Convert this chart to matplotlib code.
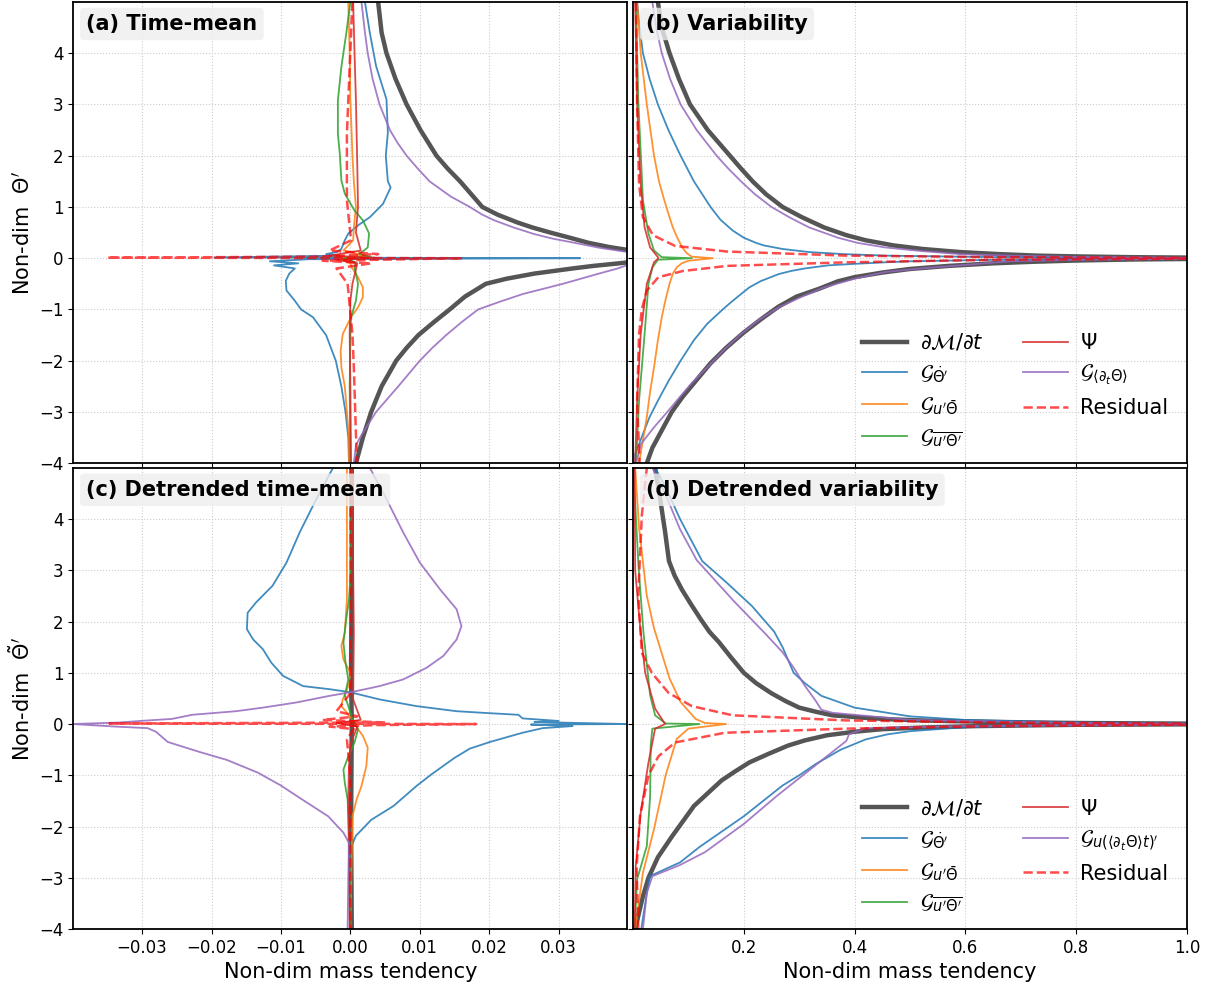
import numpy as np
import matplotlib
matplotlib.use("Agg")
import matplotlib.pyplot as plt

NA = float("nan")

# ---- profiles: (tendency, theta) pairs, NA = break ----
# (a) time-mean
a_dmdt = [(0.0040, 5.0), (0.0045, 4.4), (0.0052, 4.0), (0.0065, 3.5), (0.0081, 3.0), (0.0101, 2.5),
          (0.0124, 2.0), (0.0140, 1.75), (0.0158, 1.5), (0.0174, 1.25), (0.0190, 1.0), (0.0212, 0.85),
          (0.0240, 0.7), (0.0262, 0.6), (0.0288, 0.5), (0.0316, 0.4), (0.0343, 0.3), (0.0372, 0.22),
          (0.0400, 0.16), (NA, NA),
          (0.0400, -0.08), (0.0387, -0.1), (0.0350, -0.15), (0.0320, -0.2), (0.0265, -0.3), (0.0225, -0.4),
          (0.0195, -0.5), (0.0165, -0.75), (0.0143, -1.0), (0.0120, -1.25), (0.0098, -1.5), (0.0081, -1.75),
          (0.0066, -2.0), (0.0045, -2.5), (0.0030, -3.0), (0.0018, -3.5), (0.0008, -4.0)]
a_gdot = [(0.0021, 5.0), (0.0028, 4.4), (0.0037, 3.75), (0.0052, 3.1), (0.0054, 2.45), (0.0051, 2.0),
          (0.0054, 1.5), (0.0058, 1.38), (0.0047, 1.06), (0.0028, 0.8), (0.0011, 0.64), (-0.0003, 0.48),
          (-0.0008, 0.35), (-0.0013, 0.18), (-0.0020, 0.12), (-0.0035, 0.08), (-0.0015, 0.05),
          (-0.0196, 0.015), (0.0331, 0.0), (-0.0060, -0.02), (-0.0116, -0.06), (-0.0075, -0.1),
          (-0.0110, -0.14), (-0.0080, -0.2), (-0.0088, -0.3), (-0.0093, -0.44), (-0.0092, -0.63),
          (-0.0080, -0.83), (-0.0071, -1.0), (-0.0054, -1.15), (-0.0035, -1.5), (-0.0021, -2.0),
          (-0.0013, -2.5), (-0.0007, -3.0), (-0.0003, -3.5), (-0.0002, -4.0)]
a_gmean = [(-0.0003, 5.0), (-0.0001, 4.0), (0.0, 3.1), (0.0003, 2.0), (0.0005, 1.5), (0.0008, 1.0),
           (0.0005, 0.6), (0.0004, 0.35), (-0.0010, 0.15), (0.0020, 0.05), (-0.0015, 0.0), (0.0, -0.1),
           (0.0002, -0.18), (0.0011, -0.37), (0.0018, -0.57), (0.0018, -0.76), (0.0011, -0.96),
           (0.0001, -1.15), (-0.0011, -1.48), (-0.0014, -1.8), (-0.0013, -2.13), (-0.0008, -2.5),
           (-0.0005, -3.0), (-0.0002, -3.5), (-0.0002, -4.0)]
a_geddy = [(0.0, 5.0), (-0.0006, 4.38), (-0.0013, 3.73), (-0.0018, 3.08), (-0.0018, 2.43), (-0.0015, 2.0),
           (-0.0013, 1.52), (-0.0008, 1.26), (0.0006, 0.93), (0.0018, 0.74), (0.0027, 0.48), (0.0025, 0.21),
           (0.0013, 0.08), (0.0030, 0.02), (-0.0010, 0.0), (0.0008, -0.08), (0.0006, -0.18), (0.0011, -0.5),
           (0.0008, -0.83), (0.0001, -1.15), (0.0, -1.5), (-0.0001, -2.5), (0.0, -4.0)]
a_psi = [(0.0004, 5.0), (0.0006, 4.0), (0.0008, 3.08), (0.0010, 1.78), (0.0011, 1.0), (0.0008, 0.5),
         (0.0015, 0.15), (-0.0030, 0.05), (0.0035, 0.01), (-0.0020, -0.03), (0.0010, -0.1), (0.0003, -0.5),
         (0.0, -0.83), (-0.0001, -1.48), (0.0, -2.5), (0.0001, -4.0)]
a_gtrend = [(0.0016, 5.0), (0.0021, 4.4), (0.0025, 4.0), (0.0032, 3.5), (0.0042, 3.0), (0.0057, 2.5),
            (0.0068, 2.25), (0.0081, 2.0), (0.0097, 1.75), (0.0114, 1.5), (0.0145, 1.2), (0.0172, 1.0),
            (0.0190, 0.85), (0.0207, 0.74), (0.0235, 0.6), (0.0265, 0.47), (0.0292, 0.38), (0.0323, 0.3),
            (0.0360, 0.2), (0.0400, 0.12), (NA, NA),
            (0.0400, -0.13), (0.0385, -0.2), (0.0358, -0.3), (0.0332, -0.4), (0.0306, -0.5), (0.0277, -0.6),
            (0.0248, -0.7), (0.0215, -0.85), (0.0184, -1.0), (0.0160, -1.25), (0.0138, -1.5), (0.0118, -1.75),
            (0.0100, -2.0), (0.0069, -2.5), (0.0037, -3.0), (0.0016, -3.45), (0.0008, -3.65), (0.0005, -4.0)]
a_resid = [(0.0003, 5.0), (-0.0001, 3.73), (-0.0005, 2.43), (-0.0005, 1.13), (-0.0001, 0.6), (0.0001, 0.35),
           (-0.0030, 0.15), (0.0040, 0.08), (-0.0050, 0.03), (-0.0350, 0.01), (0.0161, 0.0), (0.0080, -0.02),
           (-0.0040, -0.05), (0.0030, -0.1), (-0.0020, -0.2), (-0.0004, -0.5), (0.0003, -1.48),
           (0.0005, -2.13), (0.0008, -3.43), (0.0010, -4.0)]

# (b) variability
b_dmdt = [(0.045, 5.0), (0.052, 4.5), (0.066, 4.0), (0.083, 3.5), (0.103, 3.0), (0.135, 2.5), (0.175, 2.0),
          (0.195, 1.75), (0.216, 1.5), (0.240, 1.25), (0.270, 1.0), (0.305, 0.8), (0.345, 0.6),
          (0.385, 0.45), (0.420, 0.35), (0.470, 0.25), (0.523, 0.18), (0.590, 0.12), (0.660, 0.08),
          (0.730, 0.05), (0.800, 0.035), (0.900, 0.02), (1.0, 0.012), (NA, NA),
          (1.0, -0.015), (0.90, -0.025), (0.80, -0.045), (0.72, -0.07), (0.65, -0.1), (0.57, -0.15),
          (0.50, -0.21), (0.45, -0.28), (0.40, -0.37), (0.37, -0.45), (0.335, -0.6), (0.295, -0.75),
          (0.262, -0.95), (0.230, -1.2), (0.200, -1.45), (0.168, -1.75), (0.140, -2.05), (0.113, -2.4),
          (0.090, -2.7), (0.070, -3.0), (0.055, -3.3), (0.035, -3.7), (0.025, -4.0)]
b_gdot = [(0.0075, 5.0), (0.012, 4.5), (0.018, 4.0), (0.030, 3.5), (0.045, 3.0), (0.064, 2.5), (0.086, 2.0),
          (0.098, 1.75), (0.110, 1.5), (0.125, 1.25), (0.140, 1.0), (0.158, 0.75), (0.180, 0.54),
          (0.200, 0.4), (0.222, 0.3), (0.236, 0.25), (0.270, 0.18), (0.318, 0.12), (0.380, 0.08),
          (0.455, 0.05), (0.66, 0.02), (1.0, 0.005), (NA, NA),
          (1.0, -0.008), (0.66, -0.03), (0.50, -0.06), (0.455, -0.08), (0.400, -0.11), (0.352, -0.14),
          (0.310, -0.2), (0.285, -0.25), (0.263, -0.31), (0.230, -0.45), (0.210, -0.57), (0.195, -0.7),
          (0.178, -0.85), (0.162, -1.0), (0.134, -1.28), (0.110, -1.6), (0.086, -2.0), (0.064, -2.4),
          (0.045, -2.78), (0.030, -3.1), (0.018, -3.43), (0.004, -3.82), (0.004, -4.0)]
b_gmean = [(0.0075, 5.0), (0.014, 4.0), (0.025, 3.0), (0.038, 2.0), (0.047, 1.5), (0.055, 1.19),
           (0.063, 0.9), (0.072, 0.6), (0.080, 0.4), (0.089, 0.21), (0.097, 0.1), (0.106, 0.03),
           (0.144, 0.0), (0.100, -0.05), (0.088, -0.1), (0.079, -0.18), (0.072, -0.3), (0.066, -0.5),
           (0.059, -0.8), (0.052, -1.15), (0.045, -1.6), (0.038, -2.13), (0.031, -2.6), (0.025, -3.1),
           (0.011, -4.0)]
b_geddy = [(0.0055, 5.0), (0.0096, 3.08), (0.018, 1.13), (0.028, 0.48), (0.038, 0.15), (0.052, 0.02),
           (0.106, 0.0), (0.045, -0.03), (0.035, -0.18), (0.028, -0.5), (0.021, -1.48), (0.011, -2.78),
           (0.0055, -4.0)]
b_psi = [(0.004, 5.0), (0.0075, 3.0), (0.014, 1.45), (0.021, 0.6), (0.031, 0.21), (0.045, 0.02),
         (0.046, 0.0), (0.038, -0.08), (0.025, -0.5), (0.014, -1.48), (0.0075, -2.78), (0.004, -4.0)]
b_gtrend = [(0.035, 5.0), (0.042, 4.5), (0.052, 4.0), (0.067, 3.5), (0.086, 3.0), (0.115, 2.5), (0.151, 2.0),
            (0.172, 1.75), (0.195, 1.5), (0.220, 1.25), (0.250, 1.0), (0.282, 0.8), (0.318, 0.6),
            (0.370, 0.4), (0.405, 0.3), (0.455, 0.21), (0.520, 0.14), (0.590, 0.08), (0.680, 0.05),
            (0.800, 0.025), (1.0, 0.008), (NA, NA),
            (1.0, -0.012), (0.80, -0.03), (0.68, -0.06), (0.59, -0.14), (0.52, -0.2), (0.455, -0.27),
            (0.400, -0.4), (0.345, -0.57), (0.305, -0.75), (0.263, -0.96), (0.228, -1.2), (0.195, -1.48),
            (0.163, -1.8), (0.134, -2.13), (0.105, -2.45), (0.079, -2.78), (0.058, -3.05), (0.038, -3.3),
            (0.014, -3.63), (0.006, -4.0)]
b_resid = [(0.0055, 5.0), (0.0075, 3.0), (0.011, 1.45), (0.018, 0.8), (0.036, 0.45), (0.076, 0.24),
           (0.17, 0.13), (0.386, 0.05), (0.66, 0.02), (1.0, 0.006), (NA, NA), (1.0, -0.008), (0.66, -0.03),
           (0.386, -0.08), (0.17, -0.15), (0.09, -0.25), (0.046, -0.37), (0.025, -0.63), (0.016, -1.0),
           (0.011, -1.48), (0.0075, -2.78), (0.012, -4.0)]

# (c) detrended time-mean
c_dmdt = [(0.0002, 5.0), (0.0002, 3.0), (0.0001, 1.0), (0.0002, 0.0), (0.0001, -2.0), (0.0002, -4.0)]
c_gdot = [(-0.0025, 5.0), (-0.0049, 4.39), (-0.0073, 3.74), (-0.0092, 3.15), (-0.0112, 2.7),
          (-0.0136, 2.37), (-0.0148, 2.17), (-0.0149, 1.85), (-0.0140, 1.65), (-0.0126, 1.46),
          (-0.0114, 1.2), (-0.0097, 0.94), (-0.0068, 0.74), (-0.0030, 0.68), (0.0, 0.62), (0.0042, 0.48),
          (0.0095, 0.35), (0.0153, 0.25), (0.0190, 0.22), (0.0242, 0.18), (0.0248, 0.11), (0.0300, 0.06),
          (0.0265, 0.04), (0.0330, 0.02), (0.0400, 0.0), (0.0260, -0.01), (0.0320, -0.04), (0.0277, -0.08),
          (0.0248, -0.17), (0.0201, -0.35), (0.0172, -0.48), (0.0150, -0.66), (0.0117, -0.98),
          (0.0096, -1.2), (0.0062, -1.6), (0.0030, -1.87), (0.0008, -2.18), (0.0001, -2.4), (0.0, -3.0),
          (0.0, -4.0)]
c_gmean = [(-0.0005, 5.0), (-0.0005, 3.0), (-0.0005, 2.43), (-0.0008, 1.78), (-0.0013, 1.52),
           (-0.0010, 1.26), (0.0, 1.0), (-0.0003, 0.74), (-0.0011, 0.48), (-0.0013, 0.35), (-0.0005, 0.22),
           (0.0005, 0.05), (0.0011, -0.1), (0.0018, -0.23), (0.0025, -0.46), (0.0023, -0.82),
           (0.0016, -1.21), (0.0009, -1.47), (0.0003, -1.8), (0.0002, -2.5), (0.0, -4.0)]
c_geddy = [(0.0002, 5.0), (0.0001, 3.08), (-0.0002, 2.43), (-0.0006, 2.04), (-0.0010, 1.59),
           (-0.0007, 1.2), (-0.0003, 0.87), (-0.0008, 0.55), (-0.0003, 0.35), (0.0003, 0.1), (0.0011, -0.1),
           (0.0006, -0.36), (-0.0003, -0.63), (-0.0010, -0.89), (-0.0008, -1.15), (-0.0004, -1.47),
           (-0.0002, -2.12), (0.0, -4.0)]
c_psi = [(0.0003, 5.0), (0.0004, 3.0), (0.0005, 1.78), (0.0004, 0.48), (0.0015, 0.08), (-0.0020, 0.02),
         (0.0010, -0.05), (0.0, -0.4), (-0.0002, -0.82), (-0.0003, -1.47), (-0.0002, -2.75), (-0.0001, -4.0)]
c_gtrend = [(0.0028, 5.0), (0.0052, 4.39), (0.0076, 3.74), (0.0100, 3.15), (0.0129, 2.63), (0.0153, 2.24),
            (0.0160, 1.91), (0.0153, 1.65), (0.0134, 1.33), (0.0110, 1.1), (0.0076, 0.87), (0.0042, 0.74),
            (0.0004, 0.63), (-0.0030, 0.55), (-0.0078, 0.42), (-0.0126, 0.32), (-0.0165, 0.25),
            (-0.0228, 0.18), (-0.0257, 0.1), (-0.0303, 0.06), (-0.0332, 0.03), (-0.0400, 0.0),
            (-0.0338, -0.05), (-0.0292, -0.08), (-0.0280, -0.15), (-0.0263, -0.35), (-0.0216, -0.55),
            (-0.0178, -0.7), (-0.0133, -0.95), (-0.0100, -1.2), (-0.0072, -1.45), (-0.0032, -1.8),
            (-0.0010, -2.12), (-0.0002, -2.32), (-0.0003, -3.0), (-0.0004, -4.0)]
c_resid = [(0.0, 5.0), (0.0001, 2.0), (0.0, 0.6), (-0.0020, 0.25), (0.0010, 0.15), (-0.0040, 0.08),
           (0.0050, 0.03), (-0.0347, 0.01), (0.0181, 0.0), (0.0040, -0.02), (-0.0030, -0.05),
           (0.0005, -0.1), (-0.0005, -0.3), (0.0, -1.0), (0.0, -4.0)]

# (d) detrended variability
d_dmdt = [(0.040, 5.0), (0.049, 4.4), (0.058, 3.75), (0.065, 3.18), (0.075, 2.9), (0.088, 2.63),
          (0.104, 2.35), (0.122, 2.05), (0.138, 1.8), (0.155, 1.6), (0.177, 1.3), (0.200, 1.0),
          (0.222, 0.8), (0.250, 0.6), (0.275, 0.45), (0.300, 0.32), (0.330, 0.24), (0.360, 0.17),
          (0.420, 0.12), (0.470, 0.09), (0.520, 0.07), (0.660, 0.04), (0.800, 0.02), (1.0, 0.008), (NA, NA),
          (1.0, -0.006), (0.80, -0.015), (0.62, -0.04), (0.52, -0.07), (0.45, -0.1), (0.40, -0.15),
          (0.35, -0.22), (0.31, -0.32), (0.28, -0.42), (0.245, -0.58), (0.21, -0.75), (0.185, -0.92),
          (0.16, -1.1), (0.135, -1.35), (0.11, -1.6), (0.09, -1.9), (0.07, -2.2), (0.045, -2.6),
          (0.028, -3.0), (0.018, -3.36), (0.004, -4.0)]
d_gdot = [(0.040, 5.0), (0.060, 4.6), (0.085, 4.0), (0.125, 3.18), (0.170, 2.75), (0.215, 2.3),
          (0.255, 1.8), (0.270, 1.5), (0.290, 1.0), (0.310, 0.8), (0.340, 0.55), (0.400, 0.32), (0.50, 0.15),
          (0.60, 0.08), (0.80, 0.03), (1.0, 0.01), (NA, NA),
          (1.0, -0.005), (0.80, -0.02), (0.60, -0.06), (0.55, -0.1), (0.50, -0.14), (0.46, -0.2),
          (0.42, -0.3), (0.375, -0.5), (0.33, -0.78), (0.30, -1.0), (0.27, -1.2), (0.235, -1.5),
          (0.20, -1.8), (0.16, -2.1), (0.12, -2.4), (0.085, -2.7), (0.030, -2.97), (0.025, -3.3),
          (0.015, -4.0)]
d_gmean = [(0.004, 5.0), (0.011, 3.83), (0.025, 2.5), (0.038, 1.87), (0.066, 0.89), (0.086, 0.43),
           (0.113, 0.1), (0.130, 0.02), (0.168, 0.0), (0.100, -0.09), (0.079, -0.29), (0.059, -1.0),
           (0.038, -2.05), (0.018, -2.9), (0.004, -4.0)]
d_geddy = [(0.0007, 5.0), (0.010, 3.08), (0.019, 1.78), (0.031, 0.56), (0.040, 0.17), (0.059, 0.01),
           (0.120, 0.0), (0.035, -0.09), (0.032, -0.42), (0.031, -1.4), (0.025, -2.38), (0.0075, -3.03),
           (0.003, -4.0)]
d_psi = [(0.003, 5.0), (0.004, 3.0), (0.012, 2.0), (0.022, 1.0), (0.040, 0.3), (0.058, 0.0),
         (0.040, -0.09), (0.028, -0.75), (0.014, -1.73), (0.005, -2.78), (0.003, -4.0)]
d_gtrend = [(0.035, 5.0), (0.058, 4.5), (0.085, 3.8), (0.115, 3.2), (0.182, 2.4), (0.240, 1.75),
            (0.270, 1.4), (0.290, 1.1), (0.310, 0.75), (0.330, 0.45), (0.340, 0.28), (0.360, 0.22),
            (0.50, 0.08), (0.80, 0.02), (1.0, 0.005), (NA, NA),
            (1.0, -0.008), (0.60, -0.04), (0.42, -0.08), (0.39, -0.2), (0.385, -0.33), (0.33, -0.8),
            (0.26, -1.4), (0.20, -1.95), (0.13, -2.5), (0.085, -2.75), (0.035, -2.97), (0.025, -3.3),
            (0.018, -4.0)]
d_resid = [(0.025, 5.0), (0.016, 4.07), (0.0096, 2.52), (0.016, 1.39), (0.034, 1.0), (0.064, 0.61),
           (0.106, 0.35), (0.18, 0.17), (0.386, 0.07), (0.66, 0.03), (1.0, 0.008), (NA, NA), (1.0, -0.012),
           (0.66, -0.04), (0.386, -0.09), (0.166, -0.17), (0.076, -0.36), (0.046, -0.63), (0.028, -1.0),
           (0.0126, -1.8), (0.0066, -2.8), (0.0096, -4.0)]

LABELS = [r"$\partial\mathcal{M}/\partial t$", r"$\mathcal{G}_{\dot{\Theta}^{\prime}}$",
          r"$\mathcal{G}_{u^{\prime}\bar{\Theta}}$", r"$\mathcal{G}_{\overline{u^{\prime}\Theta^{\prime}}}$",
          r"$\Psi$", r"$\mathcal{G}_{\langle\partial_t\Theta\rangle}$", "Residual"]
LABEL_TREND_D = r"$\mathcal{G}_{u(\langle\partial_t\Theta\rangle t)^{\prime}}$"

STYLES = [dict(color="#555555", lw=3.2),
          dict(color="tab:blue", lw=1.3, alpha=0.85),
          dict(color="tab:orange", lw=1.3, alpha=0.85),
          dict(color="tab:green", lw=1.3, alpha=0.85),
          dict(color="tab:red", lw=1.3, alpha=0.85),
          dict(color="tab:purple", lw=1.3, alpha=0.85),
          dict(color="red", lw=1.8, ls="--", alpha=0.7)]

panels = [
    ("(a) Time-mean", [a_dmdt, a_gdot, a_gmean, a_geddy, a_psi, a_gtrend, a_resid]),
    ("(b) Variability", [b_dmdt, b_gdot, b_gmean, b_geddy, b_psi, b_gtrend, b_resid]),
    ("(c) Detrended time-mean", [c_dmdt, c_gdot, c_gmean, c_geddy, c_psi, c_gtrend, c_resid]),
    ("(d) Detrended variability", [d_dmdt, d_gdot, d_gmean, d_geddy, d_psi, d_gtrend, d_resid]),
]

fig, axes = plt.subplots(2, 2, figsize=(12.14, 9.88), dpi=100, sharey=True)
fig.subplots_adjust(left=0.0604, right=0.9778, top=0.998, bottom=0.0597, wspace=0.01, hspace=0.01)

for k, (ax, (title, series)) in enumerate(zip(axes.flat, panels)):
    labels = list(LABELS)
    if k == 3:
        labels[5] = LABEL_TREND_D
    for pts, lab, st in zip(series, labels, STYLES):
        arr = np.array(pts, dtype=float)
        ax.plot(arr[:, 0], arr[:, 1], label=lab, **st)
    ax.set_ylim(-4, 5)
    ax.set_yticks(np.arange(-4, 5, 1))
    if k % 2 == 0:
        ax.set_xlim(-0.0399, 0.0399)
        ax.set_xticks([-0.03, -0.02, -0.01, 0.0, 0.01, 0.02, 0.03])
        ax.set_xticklabels(["\u22120.03", "\u22120.02", "\u22120.01", "0.00", "0.01", "0.02", "0.03"])
    else:
        ax.set_xlim(0.0, 1.0)
        ax.set_xticks([0.2, 0.4, 0.6, 0.8, 1.0])
        ax.legend(loc="lower right", ncol=2, frameon=False, fontsize=15,
                  handlelength=2.15, handletextpad=0.6, labelspacing=0.5, columnspacing=1.9,
                  bbox_to_anchor=(1.0, -0.011))
    ax.grid(True, ls=":", color="#cccccc", lw=0.8)
    ax.tick_params(labelsize=12)
    for sp in ax.spines.values():
        sp.set_linewidth(1.3)
    ax.text(0.0235, 0.974, title, transform=ax.transAxes, fontsize=15, fontweight="bold",
            va="top", ha="left",
            bbox=dict(boxstyle="round,pad=0.3,rounding_size=0.2", fc="#eeeeee", ec="none", alpha=0.8))

axes[0, 0].set_ylabel(r"Non-dim  $\Theta^{\prime}$", fontsize=15)
axes[1, 0].set_ylabel(r"Non-dim  $\tilde{\Theta}^{\prime}$", fontsize=15)
axes[1, 0].set_xlabel("Non-dim mass tendency", fontsize=15)
axes[1, 1].set_xlabel("Non-dim mass tendency", fontsize=15)
for ax in axes[0]:
    ax.tick_params(labelbottom=False)
for ax in axes[:, 1]:
    ax.tick_params(labelleft=False)

fig.savefig("out.png", dpi=100)
